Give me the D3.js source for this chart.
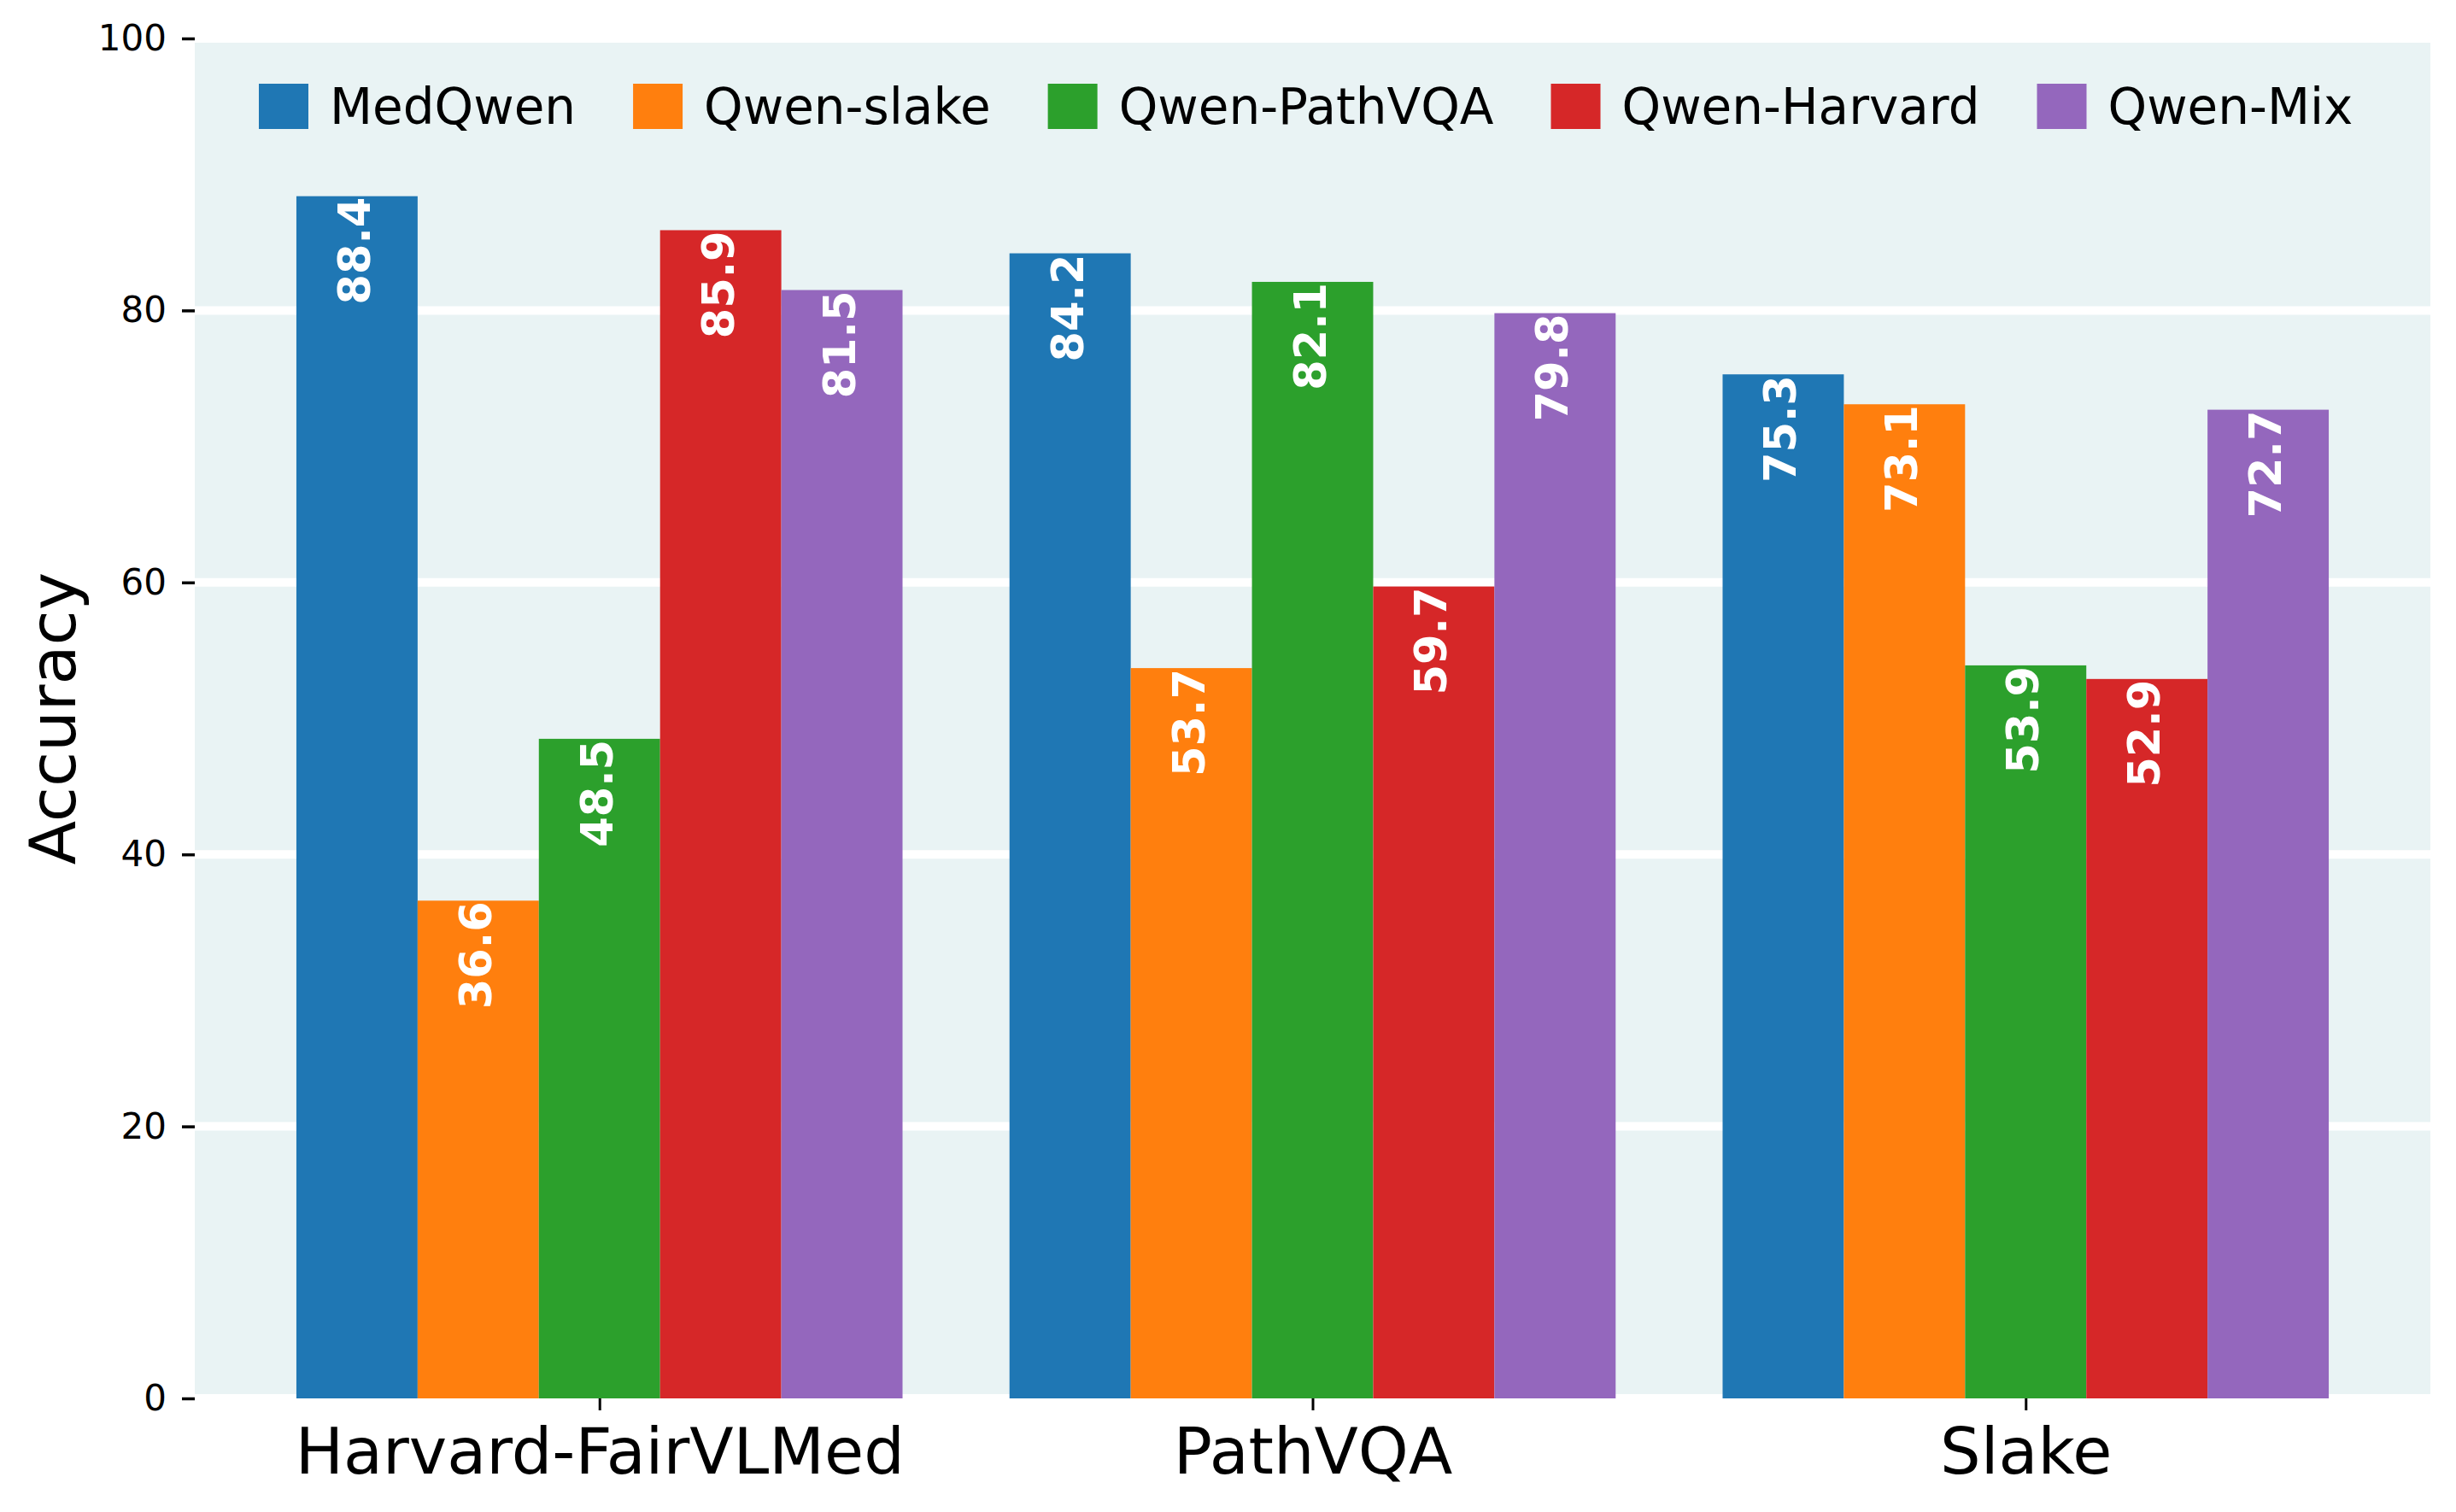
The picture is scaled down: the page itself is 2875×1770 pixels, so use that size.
<!DOCTYPE html>
<html>
<head>
<meta charset="utf-8">
<script src="https://cdn.jsdelivr.net/npm/d3@7"></script>
<style>
  body { margin: 0; background: #fff; }
  svg { display: block; font-family: "DejaVu Sans", sans-serif; }
</style>
</head>
<body>
<div id="chart"></div>
<script>
// data
var datasets = ["Harvard-FairVLMed", "PathVQA", "Slake"];
var models = ["MedQwen", "Qwen-slake", "Qwen-PathVQA", "Qwen-Harvard", "Qwen-Mix"];
var colors = ["#1f77b4", "#ff7f0e", "#2ca02c", "#d62728", "#9467bd"];
var medQwen     = [88.4, 84.2, 75.3];
var qwenSlake   = [36.6, 53.7, 73.1];
var qwenPathVQA = [48.5, 82.1, 53.9];
var qwenHarvard = [85.9, 59.7, 52.9];
var qwenMix     = [81.5, 79.8, 72.7];
var yTicks = [0, 20, 40, 60, 80, 100];

var series = [medQwen, qwenSlake, qwenPathVQA, qwenHarvard, qwenMix];

// note: "top" is taken by window.top, so plot* names
var W = 2875, H = 1770,
    plotLeft = 228, plotRight = 2845, plotTop = 45, plotBottom = 1637,
    barW = 0.17;

var svg = d3.select("#chart").append("svg")
    .attr("width", W)
    .attr("height", H);

// same limits matplotlib picks: bars span -0.425..2.425 plus 5% margins
var x = d3.scaleLinear()
    .domain([-0.5675, 2.5675])
    .range([plotLeft, plotRight]);

var y = d3.scaleLinear()
    .domain([0, 100])
    .range([plotBottom, plotTop]);

// plot background
svg.append("rect")
    .attr("x", plotLeft)
    .attr("y", plotTop)
    .attr("width", plotRight - plotLeft)
    .attr("height", plotBottom - plotTop)
    .attr("fill", "#e9f3f4");

// white grid
svg.append("g")
    .selectAll("line")
    .data(yTicks)
    .enter()
    .append("line")
    .attr("x1", plotLeft)
    .attr("x2", plotRight)
    .attr("y1", function(d){ return y(d); })
    .attr("y2", function(d){ return y(d); })
    .attr("stroke", "#fff")
    .attr("stroke-width", 10);

// flatten into one row per bar
var bars = [];
series.forEach(function(vals, m){
    vals.forEach(function(v, i){
        bars.push({ model: m, cat: i, value: v, pos: i + (m - 2) * barW });
    });
});

var barG = svg.append("g");

barG.selectAll("rect")
    .data(bars)
    .enter()
    .append("rect")
    .attr("x", function(d){ return x(d.pos - barW / 2); })
    .attr("width", function(d){ return x(d.pos + barW / 2) - x(d.pos - barW / 2); })
    .attr("y", function(d){ return y(d.value); })
    .attr("height", function(d){ return y(0) - y(d.value); })
    .attr("fill", function(d){ return colors[d.model]; });

// value labels, rotated, inside the top of each bar
barG.selectAll("text")
    .data(bars)
    .enter()
    .append("text")
    .attr("transform", function(d){
        return "translate(" + (x(d.pos) + 15) + "," + (y(d.value) + 1) + ") rotate(-90)";
    })
    .attr("text-anchor", "end")
    .attr("fill", "#fff")
    .style("font-size", "51px")
    .style("font-weight", "bold")
    .text(function(d){ return d.value.toFixed(1); });

// y axis
var yAxis = svg.append("g")
    .attr("transform", "translate(" + plotLeft + ",0)")
    .call(d3.axisLeft(y).tickValues(yTicks).tickSize(15).tickPadding(18));
yAxis.select(".domain").remove();
yAxis.selectAll("line").attr("stroke", "#000").attr("stroke-width", 3.5);
yAxis.selectAll("text")
    .attr("fill", "#000")
    .style("font-size", "42px")
    .style("font-family", "DejaVu Sans");

// x axis
var xAxis = svg.append("g")
    .attr("transform", "translate(0," + plotBottom + ")")
    .call(d3.axisBottom(x).tickValues([0, 1, 2]).tickSize(14)
        .tickFormat(function(d){ return datasets[d]; }));
xAxis.select(".domain").remove();
xAxis.selectAll("line").attr("stroke", "#000").attr("stroke-width", 3);
xAxis.selectAll("text")
    .attr("y", 88)
    .attr("dy", 0)
    .attr("fill", "#000")
    .style("font-size", "75px")
    .style("font-family", "DejaVu Sans");

// y label
svg.append("text")
    .attr("transform", "translate(88," + ((plotTop + plotBottom) / 2) + ") rotate(-90)")
    .attr("text-anchor", "middle")
    .style("font-size", "75px")
    .text("Accuracy");

// legend in one row, laid out by measured text width
var legend = svg.append("g");
var lx = 303;
models.forEach(function(name, i){
    legend.append("rect")
        .attr("x", lx)
        .attr("y", 98)
        .attr("width", 58)
        .attr("height", 53)
        .attr("fill", colors[i]);
    var t = legend.append("text")
        .attr("x", lx + 58 + 25)
        .attr("y", 145)
        .style("font-size", "58px")
        .text(name);
    lx = lx + 58 + 25 + t.node().getComputedTextLength() + 67;
});
</script>
</body>
</html>
